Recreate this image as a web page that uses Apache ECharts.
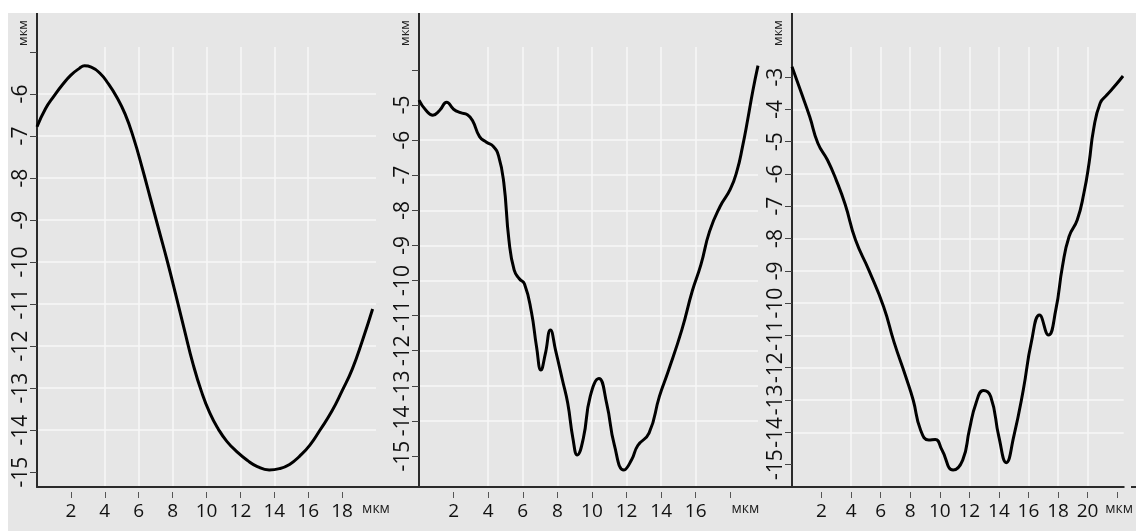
<!DOCTYPE html>
<html>
<head>
<meta charset="utf-8">
<title></title>
<script src="https://cdn.jsdelivr.net/npm/echarts@6/dist/echarts.min.js"></script>
</head>
<body style="margin:0">
<div id="main" style="width:1136px;height:531px;"></div>
<script type="text/javascript">
// профиль 1
var x1 = [0, 0.5, 1, 1.5, 2, 2.5, 2.8, 3.2, 3.7, 4.2, 4.7, 5.2, 5.7, 6.2, 6.7, 7.2, 7.7, 8.2, 8.7, 9.2, 9.7, 10.2, 10.7, 11.2, 11.8, 12.4, 13.0, 13.7, 14.3, 14.9, 15.5, 16.1, 16.7, 17.4, 18, 18.6, 19.2, 19.8]
var y1 = [-6.78, -6.35, -6.05, -5.78, -5.55, -5.39, -5.33, -5.36, -5.5, -5.75, -6.07, -6.48, -7.05, -7.75, -8.5, -9.25, -10.0, -10.8, -11.62, -12.42, -13.08, -13.6, -13.98, -14.27, -14.52, -14.72, -14.87, -14.95, -14.92, -14.82, -14.62, -14.36, -14.0, -13.55, -13.07, -12.55, -11.87, -11.12]
// профиль 2
var x2 = [0, 0.4, 0.8, 1.2, 1.6, 2.0, 2.4, 2.8, 3.1, 3.5, 3.9, 4.3, 4.6, 4.9, 5.2, 5.5, 5.8, 6.1, 6.5, 6.8, 7.05, 7.3, 7.6, 7.9, 8.3, 8.6, 8.9, 9.15, 9.5, 9.9, 10.4, 10.85, 11.3, 11.85, 12.3, 12.65, 13.3, 13.9, 14.4, 15.2, 15.8, 16.3, 16.8, 17.4, 18.0, 18.4, 18.7, 19.0, 19.3, 19.6]
var y2 = [-4.86, -5.15, -5.29, -5.15, -4.92, -5.12, -5.22, -5.28, -5.45, -5.9, -6.06, -6.18, -6.45, -7.2, -8.85, -9.7, -9.95, -10.1, -10.9, -11.9, -12.55, -12.1, -11.41, -12.0, -12.85, -13.5, -14.5, -14.97, -14.5, -13.3, -12.79, -13.5, -14.7, -15.4, -15.1, -14.7, -14.35, -13.3, -12.6, -11.4, -10.3, -9.55, -8.6, -7.9, -7.4, -6.85, -6.2, -5.43, -4.6, -3.88]
// профиль 3
var x3 = [0, 0.6, 1.2, 1.75, 2.4, 3.0, 3.6, 4.3, 5.2, 6.2, 6.9, 7.7, 8.2, 8.7, 9.25, 9.7, 10.15, 10.9, 11.55, 12.0, 12.45, 12.95, 13.45, 14.0, 14.5, 15.0, 15.65, 16.2, 16.75, 17.35, 17.85, 18.3, 18.75, 19.3, 19.75, 20.1, 20.4, 20.85, 21.3, 21.9, 22.4]
var y3 = [-2.68, -3.45, -4.23, -5.05, -5.57, -6.2, -6.95, -8.05, -8.98, -10.11, -11.2, -12.28, -13.0, -13.93, -14.24, -14.22, -14.55, -15.17, -14.86, -13.93, -13.1, -12.71, -12.9, -14.14, -14.94, -14.14, -12.69, -11.2, -10.37, -10.99, -10.21, -8.87, -7.94, -7.43, -6.6, -5.67, -4.64, -3.81, -3.56, -3.25, -2.97]

// деления осей
var xTicks1 = [2, 4, 6, 8, 10, 12, 14, 16, 18]
var xLabels1 = [2, 4, 6, 8, 10, 12, 14, 16, 18, 20]
var xTicks2 = [2, 4, 6, 8, 10, 12, 14, 16, 18]
var xLabels2 = [2, 4, 6, 8, 10, 12, 14, 16, 18]
var xTicks3 = [2, 4, 6, 8, 10, 12, 14, 16, 18, 20, 22]
var xLabels3 = [2, 4, 6, 8, 10, 12, 14, 16, 18, 20, 22]
var yTicks1 = [-15, -14, -13, -12, -11, -10, -9, -8, -7, -6, -5]
var yLabels1 = [-15, -14, -13, -12, -11, -10, -9, -8, -7, -6]
var yTicks2 = [-15, -14, -13, -12, -11, -10, -9, -8, -7, -6, -5, -4]
var yLabels2 = [-15, -14, -13, -12, -11, -10, -9, -8, -7, -6, -5]
var yTicks3 = [-15, -14, -13, -12, -11, -10, -9, -8, -7, -6, -5, -4, -3]
var yLabels3 = [-15, -14, -13, -12, -11, -10, -9, -8, -7, -6, -5, -4, -3]
var unit = 'мкм'

// размещение панелей
var top0 = 47
var axisY = 487
var panels = [
    {left: 37, width: 339, xMax: 20, yMin: -15.357, yMax: -4.881, unitAt: 20, unitPad: [0, 0, 0, 0]},
    {left: 419, width: 339, xMax: 19.6, yMin: -15.883, yMax: -3.348, unitAt: 18, unitPad: [0, 0, 0, 30]},
    {left: 792, width: 339, xMax: 22.45, yMin: -15.694, yMax: -2.071, unitAt: 22, unitPad: [0, 0, 0, 4]}
]

var myChart = echarts.init(document.getElementById('main'))

var pairs = function(xs, ys) {
    var res = []
    for (var i = 0; i < xs.length; i++) {
        res.push([xs[i], ys[i]])
    }
    return res
}

var series = [pairs(x1, y1), pairs(x2, y2), pairs(x3, y3)]
var xt = [[xTicks1, xLabels1], [xTicks2, xLabels2], [xTicks3, xLabels3]]
var yt = [[yTicks1, yLabels1], [yTicks2, yLabels2], [yTicks3, yLabels3]]

var grids = [], xAxes = [], yAxes = [], lines = [], graphics = []
var font = 'Open Sans'

graphics.push({type: 'rect', z: -10, shape: {x: 8, y: 13, width: 1128, height: 518}, style: {fill: '#e6e6e6'}})

panels.forEach(function(p, i) {
    grids.push({left: p.left, top: top0, width: p.width, height: axisY - top0})
    xAxes.push({
        type: 'value', gridIndex: i, min: 0, max: p.xMax, interval: 2,
        axisLine: {lineStyle: {color: '#2b2b2b', width: 2}},
        axisTick: {customValues: xt[i][0], length: 11, lineStyle: {color: '#555', width: 1, type: [0, 5, 6, 30]}},
        splitLine: {show: true, showMinLine: false, showMaxLine: false, lineStyle: {color: '#f7f7f7', width: 1.5}},
        axisLabel: {
            customValues: xt[i][1], margin: 15, color: '#111', fontFamily: font, fontSize: 19,
            hideOverlap: false, alignMinLabel: 'center', alignMaxLabel: 'center',
            formatter: (function(u) {
                return function(v) { return v === u ? '{u|' + unit + '}' : String(v) }
            })(p.unitAt),
            rich: {u: {fontFamily: font, fontSize: 14, color: '#222', padding: p.unitPad}}
        }
    })
    yAxes.push({
        type: 'value', gridIndex: i, min: p.yMin, max: p.yMax, splitNumber: 12,
        axisLine: {lineStyle: {color: '#2b2b2b', width: 2}},
        axisTick: {customValues: yt[i][0], length: 7, lineStyle: {color: '#444', width: 1}},
        splitLine: {show: true, showMinLine: false, showMaxLine: false, lineStyle: {color: '#f7f7f7', width: 1.5}},
        axisLabel: {customValues: yt[i][1], rotate: 90, margin: 5, color: '#111', fontFamily: font, fontSize: 21}
    })
    lines.push({
        type: 'line', xAxisIndex: i, yAxisIndex: i, data: series[i],
        smooth: 0.5, showSymbol: false, silent: true,
        lineStyle: {color: '#000', width: 3}
    })
    // продолжение оси Y вверх и подпись единиц
    graphics.push({type: 'line', z: 5, shape: {x1: p.left, y1: 13, x2: p.left, y2: top0}, style: {stroke: '#2b2b2b', lineWidth: 2}})
    graphics.push({
        type: 'text', z: 5, x: p.left - 14, y: 33, rotation: Math.PI / 2,
        style: {text: unit, fontFamily: font, fontSize: 13, fill: '#222', align: 'center', verticalAlign: 'middle'}
    })
})

// ось X сплошная между панелями
graphics.push({type: 'line', z: 5, shape: {x1: 376, y1: axisY, x2: 419, y2: axisY}, style: {stroke: '#2b2b2b', lineWidth: 2}})
graphics.push({type: 'line', z: 5, shape: {x1: 758, y1: axisY, x2: 792, y2: axisY}, style: {stroke: '#2b2b2b', lineWidth: 2}})
graphics.push({type: 'line', z: 5, shape: {x1: 1131, y1: axisY, x2: 1136, y2: axisY}, style: {stroke: '#2b2b2b', lineWidth: 2}})

var option = {
    backgroundColor: '#fff',
    animation: false,
    grid: grids,
    xAxis: xAxes,
    yAxis: yAxes,
    series: lines,
    graphic: graphics
}
myChart.setOption(option)
</script>
</body>
</html>
